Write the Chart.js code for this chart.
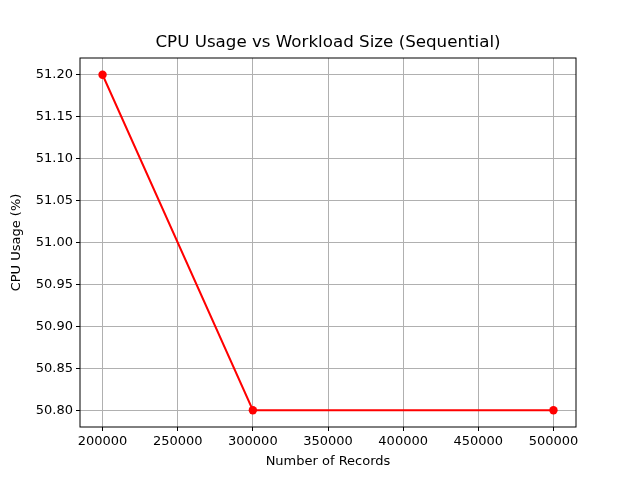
<!DOCTYPE html>
<html>
<head>
<meta charset="utf-8">
<script src="https://cdn.jsdelivr.net/npm/chart.js@4/dist/chart.umd.min.js"></script>
<style>
html,body{margin:0;padding:0;background:#fff;}
#wrap{width:640px;height:480px;}
</style>
</head>
<body>
<div id="wrap"><canvas id="c" width="640" height="480"></canvas></div>
<script>
const records = [200000, 300000, 500000];
const cpuUsage = [51.20, 50.80, 50.80];
const xTicks = [200000, 250000, 300000, 350000, 400000, 450000, 500000];
const yTicks = [50.80, 50.85, 50.90, 50.95, 51.00, 51.05, 51.10, 51.15, 51.20];
const chartTitle = 'CPU Usage vs Workload Size (Sequential)';

const FONT = 'DejaVu Sans';

const framePlugin = {
  id: 'frame',
  afterDraw(chart) {
    const a = chart.chartArea, ctx = chart.ctx;
    ctx.save();
    ctx.strokeStyle = '#000';
    ctx.lineWidth = 1;
    ctx.strokeRect(a.left, a.top, a.right - a.left, a.bottom - a.top);
    ctx.fillStyle = '#000';
    ctx.font = '16.7px "' + FONT + '"';
    ctx.textAlign = 'center';
    ctx.textBaseline = 'middle';
    ctx.fillText(chartTitle, (a.left + a.right) / 2, 43);
    ctx.restore();
  }
};

new Chart(document.getElementById('c'), {
  type: 'line',
  data: {
    datasets: [{
      data: records.map((x, i) => ({x: x, y: cpuUsage[i]})),
      borderColor: '#ff0000',
      backgroundColor: '#ff0000',
      borderWidth: 2,
      pointRadius: 4.2,
      pointHoverRadius: 4.2,
      pointBorderWidth: 0,
      tension: 0,
      fill: false
    }]
  },
  options: {
    responsive: false,
    animation: false,
    layout: {padding: {left: 0, right: 64, top: 58, bottom: 0}},
    plugins: {
      legend: {display: false},
      tooltip: {enabled: false},
      title: {display: false}
    },
    scales: {
      x: {
        type: 'linear',
        min: 185000,
        max: 515000,
        afterBuildTicks: s => { s.ticks = xTicks.map(v => ({value: v})); },
        afterFit: s => { s.height = 53; },
        ticks: {
          color: '#000',
          font: {family: FONT, size: 13},
          padding: 3,
          maxRotation: 0,
          autoSkip: false,
          callback: v => String(v)
        },
        grid: {color: '#b0b0b0', lineWidth: 1, tickLength: 4, tickColor: '#000', drawTicks: true},
        border: {display: false},
        title: {
          display: true,
          text: 'Number of Records',
          color: '#000',
          font: {family: FONT, size: 13},
          padding: {top: 0, bottom: 10.2}
        }
      },
      y: {
        type: 'linear',
        min: 50.78,
        max: 51.22,
        afterBuildTicks: s => { s.ticks = yTicks.map(v => ({value: v})); },
        afterFit: s => { s.width = 80; },
        ticks: {
          color: '#000',
          font: {family: FONT, size: 13},
          padding: 3,
          autoSkip: false,
          callback: v => Number(v).toFixed(2)
        },
        grid: {color: '#b0b0b0', lineWidth: 1, tickLength: 4, tickColor: '#000', drawTicks: true},
        border: {display: false},
        title: {
          display: true,
          text: 'CPU Usage (%)',
          color: '#000',
          font: {family: FONT, size: 13},
          padding: {top: 9.2, bottom: 0}
        }
      }
    }
  },
  plugins: [framePlugin]
});
</script>
</body>
</html>
